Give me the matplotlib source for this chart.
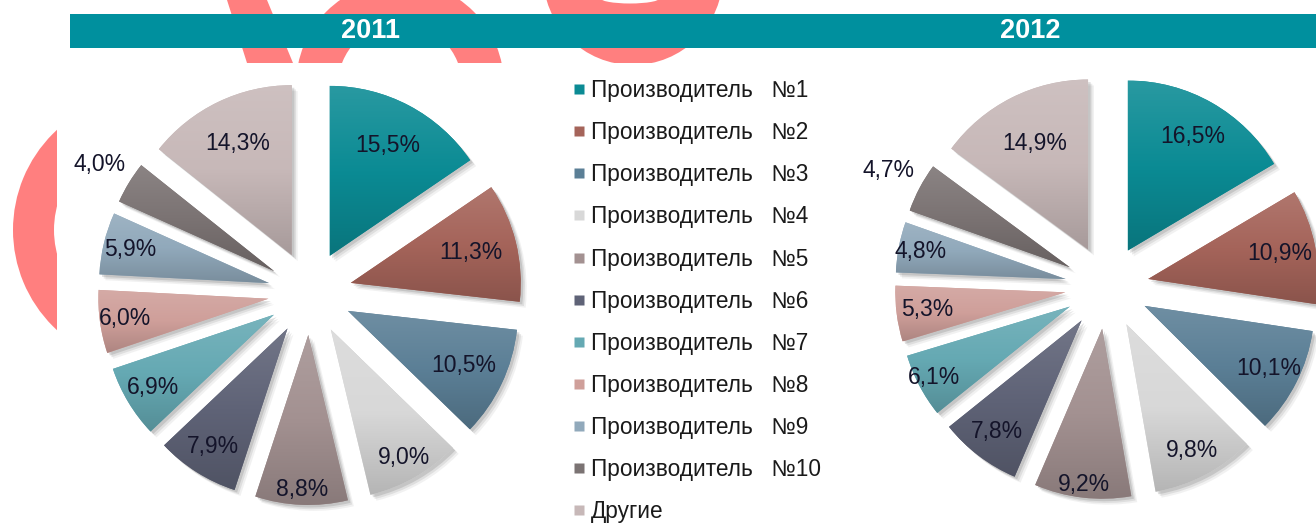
import numpy as np
import matplotlib
matplotlib.use('Agg')
import matplotlib.pyplot as plt
from matplotlib.patches import Wedge, Rectangle, Polygon, Ellipse
from matplotlib.lines import Line2D
from matplotlib.colors import LinearSegmentedColormap, to_rgb

plt.rcParams['font.family'] = ['Liberation Sans', 'DejaVu Sans']

# data
years = ['2011', '2012']
makers = ['Производитель   №%d' % i for i in range(1, 11)] + ['Другие']
share_2011 = [15.5, 11.3, 10.5, 9.0, 8.8, 7.9, 6.9, 6.0, 5.9, 4.0, 14.3]
share_2012 = [16.5, 10.9, 10.1, 9.8, 9.2, 7.8, 6.1, 5.3, 4.8, 4.7, 14.9]

colors = ['#0b8b94', '#a5645a', '#5b7f96', '#d8d8d8', '#a39191', '#5f6377',
          '#65a9b3', '#cf9f9a', '#91a9bb', '#7b7373', '#c7b8b8']

# where the % labels sit (fraction of radius from the exploded wedge centre)
lab_r_2011 = [0.735, 0.73, 0.75, 0.87, 0.91, 0.82, 0.83, 0.85, 0.84, 1.2, 0.73]
lab_r_2012 = [0.77, 0.79, 0.82, 0.84, 0.92, 0.82, 0.90, 0.82, 0.87, 1.21, 0.70]

W, H = 1316, 525
RED = '#ff7f7f'
TEAL = '#00909e'
R_PX = 170      # pie radius in pixels
HALF = 260      # half size of pie axes in pixels


def blend(c, other, t):
    c = np.array(to_rgb(c))
    return tuple(c * (1 - t) + np.array(other) * t)


def fmt(v):
    return ('%.1f' % v).replace('.', ',') + '%'


fig = plt.figure(figsize=(W / 100, H / 100), dpi=100)

# background layer in pixel coords (y down)
bg = fig.add_axes([0, 0, 1, 1], zorder=-1)
bg.set_xlim(0, W)
bg.set_ylim(H, 0)
bg.axis('off')

# red watermark pieces
bg.add_patch(Wedge((149, 230), 136, 0, 360, width=41, color=RED, lw=0, zorder=1))
bg.add_patch(Polygon([(227, 0), (267, 0), (293, 63), (247, 63)], closed=True,
                     color=RED, lw=0, zorder=1))
bg.add_patch(Wedge((400, 85), 104, 0, 360, width=42, color=RED, lw=0, zorder=1))
bg.add_patch(Ellipse((633, -25), 180, 180, color=RED, lw=0, zorder=1))
bg.add_patch(Ellipse((630, -2), 60, 11, color='white', lw=0, zorder=1.5))
# white chart area over it
bg.add_patch(Rectangle((57, 63), W - 57, H - 63, color='white', lw=0, zorder=2))

# title bar
bg.add_patch(Rectangle((70, 14), W - 70, 34, color=TEAL, lw=0, zorder=3))
for yr, x in zip(years, [370, 1030]):
    bg.text(x, 31, yr, ha='center', va='center', color='white', fontsize=19.5,
            fontweight='bold', zorder=4)


def draw_pie(values, cx, cy, lab_r):
    ax = fig.add_axes([(cx - HALF) / W, (H - cy - HALF) / H, 2 * HALF / W, 2 * HALF / H],
                      zorder=1)
    ax.patch.set_visible(False)
    wedges, _ = ax.pie(values, colors=colors, startangle=90, counterclock=False,
                       explode=[0.247] * len(values), radius=1,
                       wedgeprops=dict(linewidth=0))
    lim = HALF / R_PX
    for w, c in zip(wedges, colors):
        # soft shadow
        for k, a in zip([0.035, 0.025, 0.015], [0.08, 0.12, 0.18]):
            sh = Wedge((w.center[0] + k, w.center[1] - k), w.r, w.theta1, w.theta2,
                       color='#555555', alpha=a, lw=0, zorder=0)
            ax.add_patch(sh)
        w.set_zorder(1)
        # vertical gradient inside the wedge
        ext = w.get_path().get_extents()
        cmap = LinearSegmentedColormap.from_list(
            'g', [blend(c, (0, 0, 0), 0.16), to_rgb(c), blend(c, (1, 1, 1), 0.12)])
        grad = np.linspace(0, 1, 100).reshape(-1, 1)
        im = ax.imshow(grad, extent=[ext.x0, ext.x1, ext.y0, ext.y1], origin='lower',
                       cmap=cmap, aspect='auto', zorder=2, interpolation='bilinear')
        im.set_clip_path(w)
    for w, v, lr in zip(wedges, values, lab_r):
        ang = np.deg2rad((w.theta1 + w.theta2) / 2)
        x0, y0 = w.center
        ax.text(x0 + lr * np.cos(ang), y0 + lr * np.sin(ang), fmt(v),
                ha='center', va='center', fontsize=16.5, color='#14142a', zorder=5)
    ax.set_xlim(-lim, lim)
    ax.set_ylim(-lim, lim)
    ax.set_aspect('equal')
    ax.axis('off')
    return ax


draw_pie(share_2011, 310, 293, lab_r_2011)
draw_pie(share_2012, 1107, 287, lab_r_2012)

handles = [Line2D([], [], marker='s', ls='none', markersize=6.5,
                  markerfacecolor=c, markeredgecolor='none') for c in colors]
fig.legend(handles, makers, loc='upper left', bbox_to_anchor=(573 / W, 1 - 79 / H),
           frameon=False, fontsize=16.3, handlelength=0.5, handletextpad=0.3,
           labelspacing=0.845, borderpad=0, borderaxespad=0, labelcolor='#1a1a1a')

fig.savefig('out.png', dpi=100)
